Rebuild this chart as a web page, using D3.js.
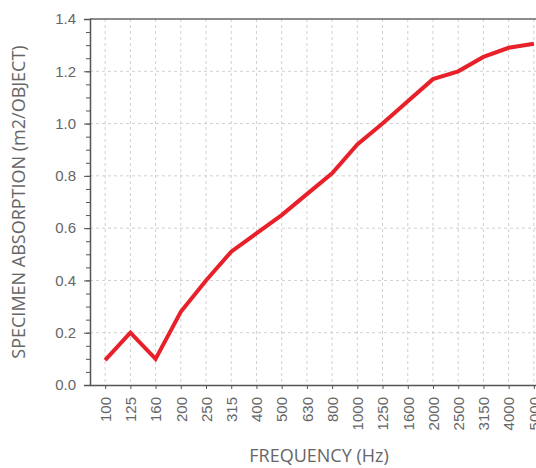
<!DOCTYPE html>
<html>
<head>
<meta charset="utf-8">
<script src="https://cdn.jsdelivr.net/npm/d3@7"></script>
<style>
	body { margin: 0; overflow: hidden; background: #fff; }
	svg { display: block; font-family: 'Open Sans', sans-serif; }
	.grid line { stroke: #d0d0d0; stroke-dasharray: 3,3; }
	.axis text { fill: #666; font-size: 15px; }
	.axis path, .axis line { stroke: #555; }
</style>
</head>
<body>
<script>
const w = 560;
const h = 468;

const frequencies = ['100', '125', '160', '200', '250', '315', '400', '500', '630', '800',
	'1000', '1250', '1600', '2000', '2500', '3150', '4000', '5000'];
const absorption = [0.095, 0.20, 0.10, 0.28, 0.40, 0.51, 0.58, 0.65, 0.73, 0.81,
	0.92, 1.00, 1.085, 1.17, 1.20, 1.255, 1.29, 1.305];
const yTicks = [0, 0.2, 0.4, 0.6, 0.8, 1.0, 1.2, 1.4];
const yMinorTicks = d3.range(0, 1.4001, 0.05);

const mLeft = 90, mRight = 549, mTop = 19, mBottom = 385;

const x = d3.scalePoint()
	.domain(frequencies)
	.range([mLeft, mRight])
	.padding(0.6);

const y = d3.scaleLinear()
	.domain([0, 1.4])
	.range([mBottom, mTop]);

const svg = d3.select('body').append('svg')
	.attr('width', w)
	.attr('height', h);

// grid
svg.append('g')
	.attr('class', 'grid')
	.selectAll('line')
	.data(frequencies)
	.enter()
	.append('line')
	.attr('x1', d => x(d))
	.attr('x2', d => x(d))
	.attr('y1', mTop)
	.attr('y2', mBottom);

svg.append('g')
	.attr('class', 'grid')
	.selectAll('line')
	.data(yTicks.filter(d => d > 0 && d < 1.4))
	.enter()
	.append('line')
	.attr('x1', mLeft)
	.attr('x2', w)
	.attr('y1', d => y(d))
	.attr('y2', d => y(d));

// top border
svg.append('line')
	.attr('x1', mLeft)
	.attr('x2', w)
	.attr('y1', mTop)
	.attr('y2', mTop)
	.attr('stroke', '#666')
	.attr('stroke-width', 1.5);

// y axis minor ticks
svg.append('g')
	.attr('class', 'axis')
	.attr('transform', `translate(${mLeft},0)`)
	.call(d3.axisLeft(y).tickValues(yMinorTicks).tickSize(4).tickFormat(''))
	.call(g => g.select('.domain').remove());

svg.append('g')
	.attr('class', 'axis')
	.attr('transform', `translate(${mLeft},0)`)
	.call(d3.axisLeft(y).tickValues(yTicks).tickSize(6).tickPadding(8).tickFormat(d3.format('.1f')))
	.call(g => g.select('.domain').attr('stroke-width', 1.5));

const xAxis = svg.append('g')
	.attr('class', 'axis')
	.attr('transform', `translate(0,${mBottom})`)
	.call(d3.axisBottom(x).tickSize(4).tickSizeOuter(0));

xAxis.select('.domain').attr('stroke-width', 1.5);

xAxis.selectAll('text')
	.attr('transform', 'rotate(-90)')
	.attr('text-anchor', 'end')
	.attr('x', -12)
	.attr('y', 0)
	.attr('dy', '0.35em');

// line
svg.append('path')
	.datum(absorption)
	.attr('fill', 'none')
	.attr('stroke', '#e8202a')
	.attr('stroke-width', 4)
	.attr('d', d3.line()
		.x((d, i) => x(frequencies[i]))
		.y(d => y(d)));

// titles
svg.append('text')
	.attr('x', 319)
	.attr('y', 462)
	.attr('text-anchor', 'middle')
	.attr('fill', '#666')
	.style('font-size', '18px')
	.text('FREQUENCY (Hz)');

svg.append('text')
	.attr('transform', `translate(25,${(mTop + mBottom) / 2}) rotate(-90)`)
	.attr('text-anchor', 'middle')
	.attr('fill', '#666')
	.style('font-size', '18px')
	.text('SPECIMEN ABSORPTION (m2/OBJECT)');
</script>
</body>
</html>
